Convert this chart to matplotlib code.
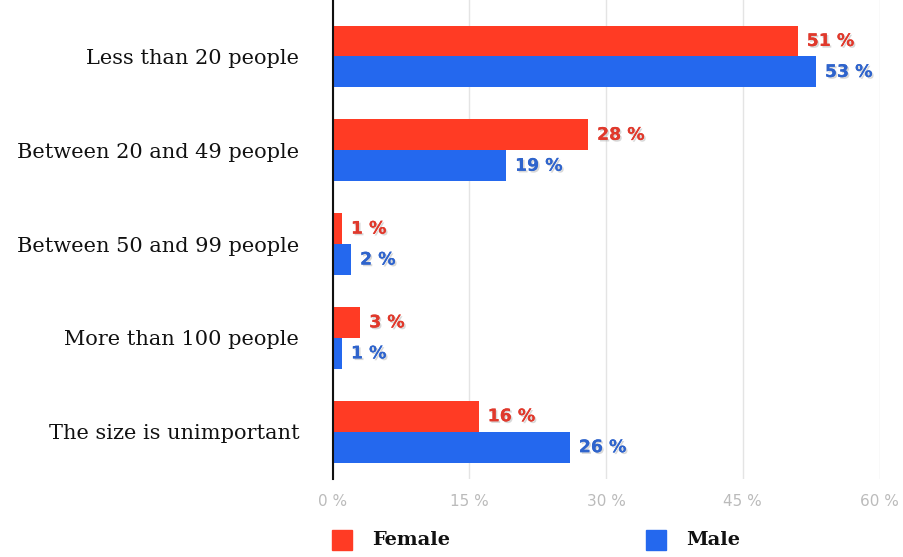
import matplotlib.pyplot as plt
import matplotlib.patheffects as pe
import numpy as np

categories = ['Less than 20 people', 'Between 20 and 49 people', 'Between 50 and 99 people',
              'More than 100 people', 'The size is unimportant']
female = [51, 28, 1, 3, 16]
male = [53, 19, 2, 1, 26]
ticks = [0, 15, 30, 45, 60]

red = '#FF3B24'
blue = '#2468EE'

fig = plt.figure(figsize=(9.04, 5.57), dpi=100)
ax = fig.add_axes([0.368, 0.14, 0.605, 0.86])

y = np.arange(len(categories))
h = 0.33
ax.barh(y - h / 2, female, height=h, color=red, zorder=3)
ax.barh(y + h / 2, male, height=h, color=blue, zorder=3)

shadow = [pe.withSimplePatchShadow(offset=(1.2, -1.2), shadow_rgbFace='#aaaaaa', alpha=0.45), pe.Normal()]
for i in range(len(categories)):
    ax.text(female[i] + 1.0, y[i] - h / 2, f'{female[i]} %', va='center', ha='left',
            color='#E0392C', fontsize=12.5, fontweight='bold', family='DejaVu Sans', path_effects=shadow)
    ax.text(male[i] + 1.0, y[i] + h / 2, f'{male[i]} %', va='center', ha='left',
            color='#2F64CC', fontsize=12.5, fontweight='bold', family='DejaVu Sans', path_effects=shadow)

ax.set_xlim(0, 60)
ax.set_ylim(len(categories) - 0.5 + 0.004, -0.5 - 0.102)
ax.set_xticks(ticks)
ax.set_xticklabels([f'{t} %' for t in ticks], color='#BBBBBB', fontsize=11, family='DejaVu Sans')
ax.set_yticks(y)
ax.set_yticklabels(categories, fontsize=15, family='DejaVu Serif', color='#111111')
ax.tick_params(axis='both', length=0)
ax.tick_params(axis='x', pad=11)
ax.tick_params(axis='y', pad=24)
ax.grid(axis='x', color='#E4E4E4', linewidth=1, zorder=0)
for s in ['top', 'right', 'bottom']:
    ax.spines[s].set_visible(False)
ax.spines['left'].set_color('#111111')
ax.spines['left'].set_linewidth(1.5)
ax.spines['left'].set_zorder(4)

# legend
fig.patches.append(plt.Rectangle((332 / 904, 1 - 550 / 557), 20 / 904, 20 / 557,
                                 transform=fig.transFigure, color=red))
fig.text(372 / 904, 1 - 540 / 557, 'Female', fontsize=14, fontweight='bold',
         family='DejaVu Serif', va='center', color='#111111')
fig.patches.append(plt.Rectangle((646 / 904, 1 - 550 / 557), 20 / 904, 20 / 557,
                                 transform=fig.transFigure, color=blue))
fig.text(686 / 904, 1 - 540 / 557, 'Male', fontsize=14, fontweight='bold',
         family='DejaVu Serif', va='center', color='#111111')

fig.savefig('out.png', dpi=100)
